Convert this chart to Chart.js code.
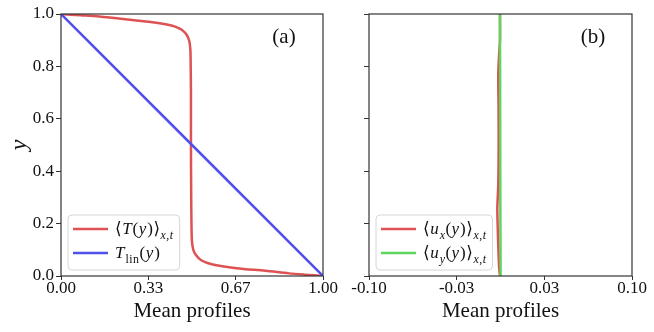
<!DOCTYPE html>
<html>
<head>
<meta charset="utf-8">
<script src="https://cdn.jsdelivr.net/npm/chart.js@4/dist/chart.umd.min.js"></script>
<style>
  body { margin: 0; background: #fff; }
  #wrap { position: relative; width: 654px; height: 332px; overflow: hidden; }
  canvas { position: absolute; top: 0; }
</style>
</head>
<body>
<div id="wrap">
  <canvas id="chartA" width="345" height="332" style="left:0"></canvas>
  <canvas id="chartB" width="309" height="332" style="left:345px"></canvas>
</div>
<script>
// mean temperature profile <T(y)>
const tempY = [0, 0.005, 0.01, 0.02, 0.03, 0.045, 0.06, 0.08, 0.10, 0.13, 0.2, 0.3, 0.5, 0.7, 0.8, 0.86, 0.89, 0.905, 0.92, 0.932, 0.943, 0.955, 0.97, 0.98, 0.99, 0.995, 1.0];
const tempMean = [1.0, 0.93, 0.87, 0.78, 0.67, 0.575, 0.535, 0.515, 0.505, 0.500, 0.498, 0.497, 0.496, 0.496, 0.495, 0.494, 0.491, 0.487, 0.48, 0.47, 0.455, 0.425, 0.335, 0.245, 0.145, 0.075, 0.0];
// linear conduction profile
const linY = [0, 1];
const linT = [1, 0];
// mean velocity profiles
const velY = [0, 0.03, 0.1, 0.2, 0.26, 0.35, 0.5, 0.65, 0.77, 0.85, 0.9, 1.0];
const uxMean = [-0.0004, -0.001, -0.0016, -0.0022, -0.0024, -0.0017, -0.0014, -0.0015, -0.0017, -0.001, -0.0004, -0.0004];
const uyY = [0, 0.25, 0.5, 0.75, 1];
const uyMean = [0.0001, -0.0001, -0.0002, -0.0003, -0.0004];

const ticksA = [0, 1 / 3, 2 / 3, 1];
const ticksB = [-0.1, -1 / 30, 1 / 30, 0.1];

const FAMILY = '"Liberation Serif", "DejaVu Serif", serif';
const INK = '#333';

function pts(xs, ys) {
  return xs.map((x, i) => ({ x: x, y: ys[i] }));
}

// tiny math renderer: letters italic, _{..} subscript, \rm upright
function parseMath(str) {
  const out = [];
  let i = 0;
  while (i < str.length) {
    if (str[i] === '_' && str[i + 1] === '{') {
      const end = str.indexOf('}', i);
      let inner = str.slice(i + 2, end);
      let roman = false;
      if (inner.startsWith('\\rm ')) { roman = true; inner = inner.slice(4); }
      for (const ch of inner) out.push({ ch, sub: true, italic: !roman && /[a-z]/i.test(ch) });
      i = end + 1;
    } else {
      out.push({ ch: str[i], sub: false, italic: /[a-z]/i.test(str[i]) });
      i++;
    }
  }
  return out;
}

function drawMath(ctx, str, x, y, size, measureOnly) {
  const x0 = x;
  for (const t of parseMath(str)) {
    const s = t.sub ? size * 0.7 : size;
    ctx.font = (t.italic ? 'italic ' : '') + s + 'px ' + FAMILY;
    if (!measureOnly) ctx.fillText(t.ch, x, t.sub ? y + size * 0.3 : y);
    x += ctx.measureText(t.ch).width + (t.italic && !t.sub ? 1 : 0.5);
  }
  return x - x0;
}

// frame, panel tag and legend drawn like the matplotlib figure
const decorPlugin = {
  id: 'decor',
  afterDatasetsDraw(chart, args, opts) {
    const ctx = chart.ctx;
    const a = chart.chartArea;
    ctx.save();
    ctx.strokeStyle = INK;
    ctx.lineWidth = 1.2;
    ctx.strokeRect(a.left, a.top, a.right - a.left, a.bottom - a.top);

    ctx.fillStyle = '#111';
    ctx.font = '21px ' + FAMILY;
    ctx.textAlign = 'center';
    ctx.textBaseline = 'middle';
    ctx.fillText(opts.tag, a.right - 39, a.top + 23);

    // legend box
    const size = 17;
    const sets = chart.data.datasets;
    ctx.textAlign = 'left';
    ctx.textBaseline = 'alphabetic';
    let textW = 0;
    sets.forEach(ds => { textW = Math.max(textW, drawMath(ctx, ds.label, 0, 0, size, true)); });
    const bx = a.left + 7, bb = a.bottom - 6;
    const bt = bb - 55;
    const bw = 47 + textW + 6;
    ctx.beginPath();
    ctx.roundRect(bx, bt, bw, bb - bt, 4);
    ctx.fillStyle = 'rgba(255,255,255,0.8)';
    ctx.fill();
    ctx.strokeStyle = '#d6d6d6';
    ctx.lineWidth = 1;
    ctx.stroke();
    sets.forEach((ds, i) => {
      const ry = bt + 14 + i * 24;
      ctx.strokeStyle = ds.borderColor;
      ctx.lineWidth = 2.5;
      ctx.beginPath();
      ctx.moveTo(bx + 5, ry);
      ctx.lineTo(bx + 40, ry);
      ctx.stroke();
      ctx.fillStyle = '#111';
      drawMath(ctx, ds.label, bx + 47, ry + 5, size, false);
    });
    ctx.restore();
  }
};

function lineSet(label, data, color, order) {
  return {
    label: label,
    data: data,
    showLine: true,
    borderColor: color,
    backgroundColor: color,
    borderWidth: 2.5,
    pointRadius: 0,
    tension: 0.3,
    order: order
  };
}

function makeOptions(xMin, xMax, xTicks, yWidth, showYLabels, tag) {
  return {
    responsive: false,
    animation: false,
    layout: { padding: { left: 0, right: 22, top: 14, bottom: 0 } },
    plugins: { legend: { display: false }, tooltip: { enabled: false }, decor: { tag: tag } },
    scales: {
      x: {
        type: 'linear',
        min: xMin,
        max: xMax,
        afterBuildTicks: (axis) => { axis.ticks = xTicks.map(v => ({ value: v })); },
        afterFit: (scale) => { scale.height = 56; scale.paddingLeft = 0; scale.paddingRight = 0; },
        border: { display: false },
        grid: { drawOnChartArea: false, drawTicks: true, tickLength: 4, color: INK },
        ticks: {
          color: '#111',
          padding: -2,
          maxRotation: 0,
          font: { family: FAMILY, size: 17 },
          callback: (v) => Number(v).toFixed(2)
        },
        title: {
          display: true,
          text: 'Mean profiles',
          color: '#111',
          font: { family: FAMILY, size: 21 },
          padding: { top: 0, bottom: 8 }
        }
      },
      y: {
        type: 'linear',
        min: 0,
        max: 1,
        afterFit: (scale) => { scale.width = yWidth; scale.paddingTop = 0; scale.paddingBottom = 0; },
        border: { display: false },
        grid: { drawOnChartArea: false, drawTicks: true, tickLength: 5, color: INK },
        ticks: {
          display: showYLabels,
          stepSize: 0.2,
          color: '#111',
          padding: 2,
          font: { family: FAMILY, size: 17 },
          callback: (v) => Number(v).toFixed(1)
        },
        title: {
          display: showYLabels,
          text: 'y',
          color: '#111',
          font: { family: FAMILY, size: 24, style: 'italic' },
          padding: { top: 5, bottom: 0 }
        }
      }
    }
  };
}

new Chart(document.getElementById('chartA'), {
  type: 'scatter',
  data: {
    datasets: [
      lineSet('⟨T(y)⟩_{x,t}', pts(tempMean, tempY), '#de5253', 2),
      lineSet('T_{\\rm lin}(y)', pts(linT, linY), '#5050ea', 1)
    ]
  },
  options: makeOptions(0, 1, ticksA, 61, true, '(a)'),
  plugins: [decorPlugin]
});

new Chart(document.getElementById('chartB'), {
  type: 'scatter',
  data: {
    datasets: [
      lineSet('⟨u_{x}(y)⟩_{x,t}', pts(uxMean, velY), '#de5253', 2),
      lineSet('⟨u_{y}(y)⟩_{x,t}', pts(uyMean, uyY), '#5cd65c', 1)
    ]
  },
  options: makeOptions(-0.1, 0.1, ticksB, 24, false, '(b)'),
  plugins: [decorPlugin]
});
</script>
</body>
</html>
